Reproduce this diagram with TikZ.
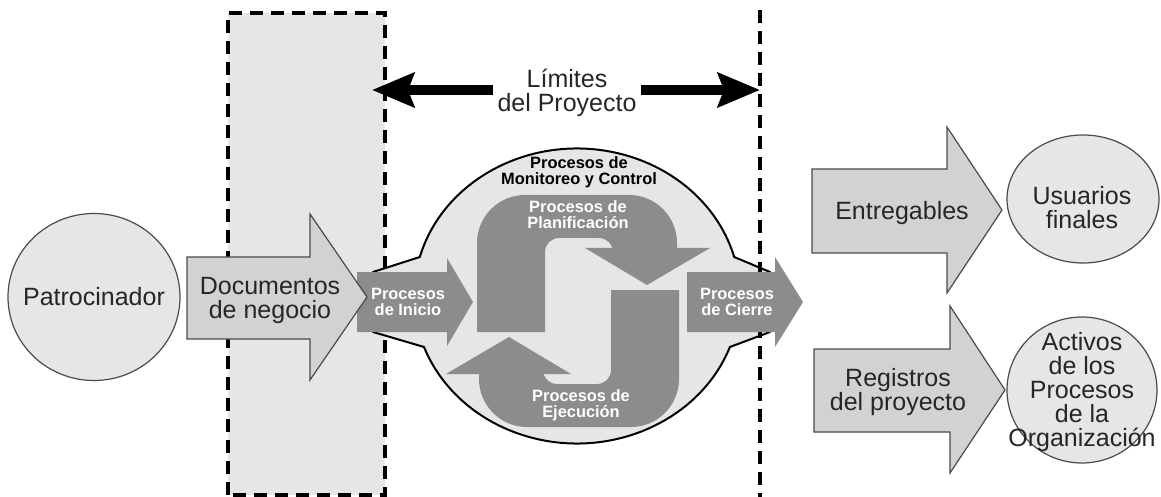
\documentclass[tikz,border=0pt]{standalone}
\usepackage{fontspec}
\setmainfont{Liberation Sans}
\usetikzlibrary{arrows.meta,shapes.geometric}
\definecolor{fondo}{HTML}{E6E6E6}
\definecolor{flecha}{HTML}{D2D2D2}
\definecolor{proceso}{HTML}{8C8C8C}
\definecolor{borde}{HTML}{4A4A4A}
\definecolor{texto}{HTML}{262626}
\tikzset{circ node/.style={ellipse,fill=fondo,draw=borde,line width=0.6pt,inner sep=0pt},
         big text/.style={align=center,text=texto,inner sep=2pt,font=\fontsize{12.5}{12}\selectfont},
         small text/.style={align=center,inner sep=0pt,font=\fontsize{8.2}{8}\selectfont\bfseries},
         big arrow/.style={fill=flecha,draw=borde,line width=0.6pt,line join=miter},
         proc arrow/.style={fill=proceso},
         limite/.style={line width=2pt,dash pattern=on 6.5pt off 4pt},
         lim arrow/.style={line width=5pt,-{Stealth[length=21pt,width=17pt,inset=3pt]}},
         giro/.pic={
           \fill[proceso] (-101,21) [rounded corners=24pt] -- (-101,-116) -- (99,-116)
             [sharp corners] -- (99,-63) -- (132,-63) -- (69,-26) -- (7,-63) -- (35,-63)
             [rounded corners=7pt] -- (35,-73) -- (-33,-73) [sharp corners] -- (-33,21) -- cycle;
         }
            }
\begin{document}
\begin{tikzpicture}[x=0.5pt,y=-0.5pt]
    \useasboundingbox (0,0) rectangle (1161,497);

    \fill[fondo] (228,13) rectangle (385,495);

    % monitoreo y control
    \filldraw[fill=fondo,draw=black,line width=1pt,line join=round]
      (373,272) -- (419.8,257) arc[start angle=195.33,end angle=344.67,x radius=163,y radius=147.5]
      -- (770,272) -- (770,332) -- (729.9,347)
      arc[start angle=20.23,end angle=159.77,x radius=163,y radius=147.5] -- (373,332) -- cycle;
    \pic at (578,311) {giro};
    \pic[rotate=180] at (578,311) {giro};

    \draw[limite] (228,495) -- (228,13) -- (385,13) -- (385,495) -- cycle;
    \draw[limite] (760,10) -- (760,497);

    \node[small text] (monit) at (579,172) {Procesos de\\Monitoreo y Control};
    \node[small text,text=white] (planif) at (578,215) {Procesos de\\Planificación};
    \node[small text,text=white] (ejec) at (581,405) {Procesos de\\Ejecución};

    \fill[proc arrow] (357,272) -- (447,272) -- (447,258) -- (473,302) -- (447,346) -- (447,332) -- (357,332) -- cycle;
    \node[small text,text=white] (inicio) at (408,302) {Procesos\\de Inicio};
    \fill[proc arrow] (687,272) -- (775,272) -- (775,257) -- (803,302) -- (775,347) -- (775,332) -- (687,332) -- cycle;
    \node[small text,text=white] (cierre) at (737,302) {Procesos\\de Cierre};

    \node[big text] (limites) at (567,93) {Límites\\del Proyecto};
    \coordinate (limizq) at (372,90);
    \coordinate (limder) at (760,90);
    \draw[lim arrow] (limites.west |- limizq) -- (limizq);
    \draw[lim arrow] (limites.east |- limder) -- (limder);

    \node[circ node,minimum width=86pt,minimum height=83.5pt] (patro) at (94,297) {};
    \node[big text] (patro txt) at (patro) {Patrocinador};

    \draw[big arrow] (187,257) -- (310,257) -- (310,214) -- (367,297) -- (310,380) -- (310,339) -- (187,339) -- cycle;
    \node[big text] (docs) at (270,300) {Documentos\\de negocio};

    \draw[big arrow] (812,169) -- (947,169) -- (947,127) -- (1002,210) -- (947,293) -- (947,253) -- (812,253) -- cycle;
    \node[big text] (entreg) at (902,213) {Entregables};
    \draw[big arrow] (814,349) -- (950,349) -- (950,306) -- (1005,390) -- (950,473) -- (950,432) -- (814,432) -- cycle;
    \node[big text] (regis) at (898,392) {Registros\\del proyecto};

    \node[circ node,minimum width=76pt,minimum height=64pt] (usuarios) at (1083,199) {};
    \node[big text] (usuarios txt) at (1082,208) {Usuarios\\finales};
    \node[circ node,minimum width=75pt,minimum height=73pt] (activos) at (1082,390) {};
    \node[big text] (activos txt) at (1082,392) {Activos\\de los\\Procesos\\de la\\Organización};

\end{tikzpicture}
\end{document}
